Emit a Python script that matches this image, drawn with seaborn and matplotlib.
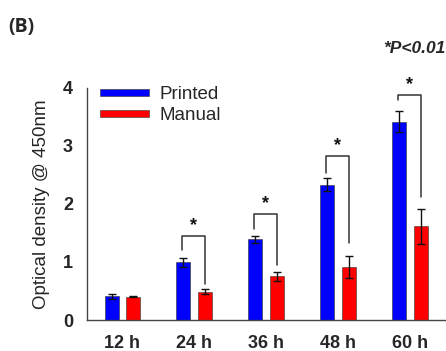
import matplotlib
matplotlib.use("Agg")
import matplotlib.pyplot as plt
import seaborn as sns
import pandas as pd
from matplotlib.patches import Patch

# Cell proliferation (CCK-8) readout, optical density at 450 nm
time_points = ["12 h", "24 h", "36 h", "48 h", "60 h"]
printed_od = [0.41, 0.99, 1.39, 2.33, 3.41]
printed_err = [0.04, 0.08, 0.06, 0.11, 0.18]
manual_od = [0.40, 0.49, 0.75, 0.92, 1.61]
manual_err = [0.01, 0.04, 0.07, 0.19, 0.30]
groups = ["Printed", "Manual"]
colors = ["#0000FF", "#FF0000"]

# significance brackets (time points 24-60 h): top, left-leg end, right-leg end
bracket_idx = [1, 2, 3, 4]
bracket_top = [1.45, 1.82, 2.83, 3.87]
bracket_left = [1.20, 1.56, 2.53, 3.79]
bracket_right = [0.62, 0.95, 1.32, 2.12]

df = pd.DataFrame({
    "time": time_points * 2,
    "group": [groups[0]] * len(time_points) + [groups[1]] * len(time_points),
    "od": printed_od + manual_od,
    "err": printed_err + manual_err,
})

sns.set_style("white")
plt.rcParams["font.family"] = ["Liberation Sans", "DejaVu Sans"]

fig = plt.figure(figsize=(4.46, 3.51), dpi=100)
ax = fig.add_axes([0.195, 0.0883, 0.805, 0.662])

sns.barplot(data=df, x="time", y="od", hue="group", order=time_points,
            hue_order=groups, palette=colors, width=0.6, gap=0.35,
            errorbar=None, edgecolor="#333333", linewidth=0.4,
            saturation=1, legend=False, ax=ax)

# error bars at the drawn bar centres
errs = [printed_err, manual_err]
vals = [printed_od, manual_od]
bar_sets = list(ax.containers)
for k, cont in enumerate(bar_sets):
    xs = [p.get_x() + p.get_width() / 2 for p in cont.patches]
    ax.errorbar(xs, vals[k], yerr=errs[k], fmt="none", ecolor="#111111",
                elinewidth=1.0, capsize=3.2, capthick=1.0, zorder=3)

# significance brackets with asterisks
for i, top, yl, yr in zip(bracket_idx, bracket_top, bracket_left, bracket_right):
    x0, x1 = i - 0.17, i + 0.15
    ax.plot([x0, x0, x1, x1], [yl, top, top, yr], color="#333333",
            lw=1.1, clip_on=False, zorder=4)
    ax.text((x0 + x1) / 2, top + 0.03, "*", ha="center", va="bottom",
            fontsize=13, fontweight="bold", color="#111111")

ax.set_xlim(-0.494, 4.505)
ax.set_ylim(0, 4)
ax.set_yticks([0, 1, 2, 3, 4])
ax.set_xlabel("")
ax.set_ylabel("Optical density @ 450nm", fontsize=13.5, labelpad=9)
for s in ["top", "right"]:
    ax.spines[s].set_visible(False)
for s in ["left", "bottom"]:
    ax.spines[s].set_color("#444444")
    ax.spines[s].set_linewidth(1.0)
ax.tick_params(axis="both", direction="inout", length=4, width=0.9,
               color="#444444", labelsize=13)
ax.tick_params(axis="y", pad=8)
ax.tick_params(axis="x", pad=9)
for lab in ax.get_xticklabels() + ax.get_yticklabels():
    lab.set_fontweight("bold")

handles = [Patch(facecolor=c, edgecolor="#333333", linewidth=0.4) for c in colors]
ax.legend(handles, groups, loc="upper left", bbox_to_anchor=(0.036, 1.005),
          frameon=False, fontsize=13.5, handlelength=2.6, handleheight=0.22,
          handletextpad=0.6, labelspacing=0.2, borderaxespad=0, borderpad=0)

fig.text(0.018, 0.923, "(B)", fontsize=14, fontweight="bold",
         family=["Open Sans", "DejaVu Sans"], ha="left", va="center")
fig.text(0.998, 0.862, "*P<0.01", fontsize=12.5, fontweight="bold",
         fontstyle="italic", ha="right", va="center")

fig.savefig("out.png", dpi=100)
